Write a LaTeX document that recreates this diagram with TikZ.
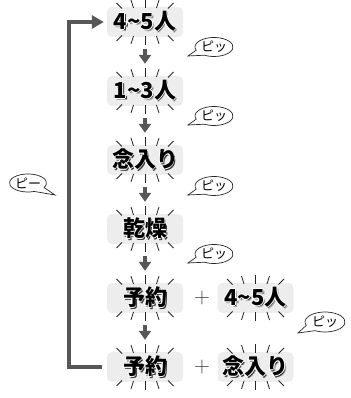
\documentclass[tikz,border=0pt]{standalone}
\usepackage{fontspec}
\newfontfamily\jp{Noto Sans CJK JP}
\usetikzlibrary{arrows.meta}
\definecolor{boxgray}{HTML}{EDEDED}
\definecolor{arrgray}{HTML}{575757}
\newcommand\glowtxt[1]{%
  \rlap{\hspace{1.8pt}\raisebox{-1.8pt}{\color{black!35}#1}}%
  \rlap{\hspace{1.2pt}\raisebox{-1.2pt}{\color{black!80}#1}}%
  \rlap{\hspace{-0.9pt}\color{white}#1}%
  \rlap{\hspace{0.9pt}\color{white}#1}%
  \rlap{\raisebox{0.9pt}{\color{white}#1}}%
  \rlap{\raisebox{-0.9pt}{\color{white}#1}}%
  \rlap{\hspace{0.65pt}\raisebox{0.65pt}{\color{white}#1}}%
  \rlap{\hspace{-0.65pt}\raisebox{0.65pt}{\color{white}#1}}%
  \rlap{\hspace{-0.65pt}\raisebox{-0.65pt}{\color{white}#1}}%
  #1}
\newcommand\tl{\char"007E\relax}
\tikzset{
  box/.style={fill=boxgray, rounded corners=5pt, minimum width=76pt, minimum height=30pt, inner sep=0pt,
    font=\jp\bfseries\fontsize{22}{22}\selectfont},
  ray/.style={black!85, line width=0.8pt},
  darr/.style={arrgray, line width=4pt, -{Triangle[length=9pt,width=12pt]}},
  bracket/.style={arrgray, line width=4pt, -{Triangle[length=12pt,width=13pt]}},
  bubline/.style={black!85, line width=0.7pt},
  bubtext/.style={font=\jp\fontsize{13}{13}\selectfont, inner sep=0pt},
  plus/.style={font=\fontsize{22}{22}\selectfont, text=black!75, inner sep=0pt}
}
\newcommand\rays[1]{%
  \begin{scope}[shift={(#1.center)}]
    \foreach \s in {1,-1}{
      \draw[ray] (0,23*\s) -- (0,14*\s);
      \draw[ray] (-14,22*\s) -- (-11.5,14*\s);
      \draw[ray] (14,22*\s) -- (11.5,14*\s);
      \draw[ray] (-28.5,19*\s) -- (-23,13.5*\s);
      \draw[ray] (28.5,19*\s) -- (23,13.5*\s);
    }
  \end{scope}}
\begin{document}
\begin{tikzpicture}[x=1pt,y=1pt]
\useasboundingbox (0,0) rectangle (350,398);
% boxes
\node[box] (r1) at (145,376) {\glowtxt{4\tl5人}};
\node[box] (r2) at (145,307) {\glowtxt{1\tl3人}};
\node[box] (r3) at (145,238) {\glowtxt{念入り}};
\node[box] (r4) at (145,169) {\glowtxt{乾燥}};
\node[box] (r5a) at (145,100) {\glowtxt{予約}};
\node[box] (r5b) at (255.5,100) {\glowtxt{4\tl5人}};
\node[box] (r6a) at (145,31) {\glowtxt{予約}};
\node[box] (r6b) at (255.5,31) {\glowtxt{念入り}};
\node[plus] (p5) at (202,100) {+};
\node[plus] (p6) at (202,31) {+};
\rays{r1}\rays{r2}\rays{r3}\rays{r4}\rays{r5a}\rays{r5b}\rays{r6a}\rays{r6b}
% down arrows
\draw[darr] ([yshift=-12pt]r1.south) -- ([yshift=12pt]r2.north);
\draw[darr] ([yshift=-12pt]r2.south) -- ([yshift=12pt]r3.north);
\draw[darr] ([yshift=-12pt]r3.south) -- ([yshift=12pt]r4.north);
\draw[darr] ([yshift=-12pt]r4.south) -- ([yshift=12pt]r5a.north);
\draw[darr] ([yshift=-12pt]r5a.south) -- ([yshift=12pt]r6a.north);
% loop back bracket
\coordinate (bb) at (69,31);
\draw[bracket] ([xshift=-5pt]r6a.west) -- (bb) |- ([xshift=-3pt]r1.west);
% bubbles
\foreach \n/\bx/\by in {b1/214/351, b2/214/282, b3/214/212, b4/214/144}{
  \node[bubtext] (\n) at (\bx,\by) {ピッ};
  \draw[bubline] ([shift={(240:19pt and 9.5pt)}]\n.center)
     arc[start angle=240, end angle=560, x radius=19pt, y radius=9.5pt]
     -- ([shift={(-26pt,-9pt)}]\n.center) -- cycle;
}
\node[bubtext] (b5) at (325,76) {ピッ};
\draw[bubline] ([shift={(240:20pt and 10pt)}]b5.center)
   arc[start angle=240, end angle=560, x radius=20pt, y radius=10pt]
   -- ([shift={(-27pt,-11pt)}]b5.center) -- cycle;
\node[bubtext] (b0) at (28,215) {ピー};
\draw[bubline] ([shift={(330:18.5pt and 9pt)}]b0.center)
   arc[start angle=330, end angle=650, x radius=18.5pt, y radius=9pt]
   -- ([shift={(27pt,-12pt)}]b0.center) -- cycle;
\end{tikzpicture}
\end{document}
